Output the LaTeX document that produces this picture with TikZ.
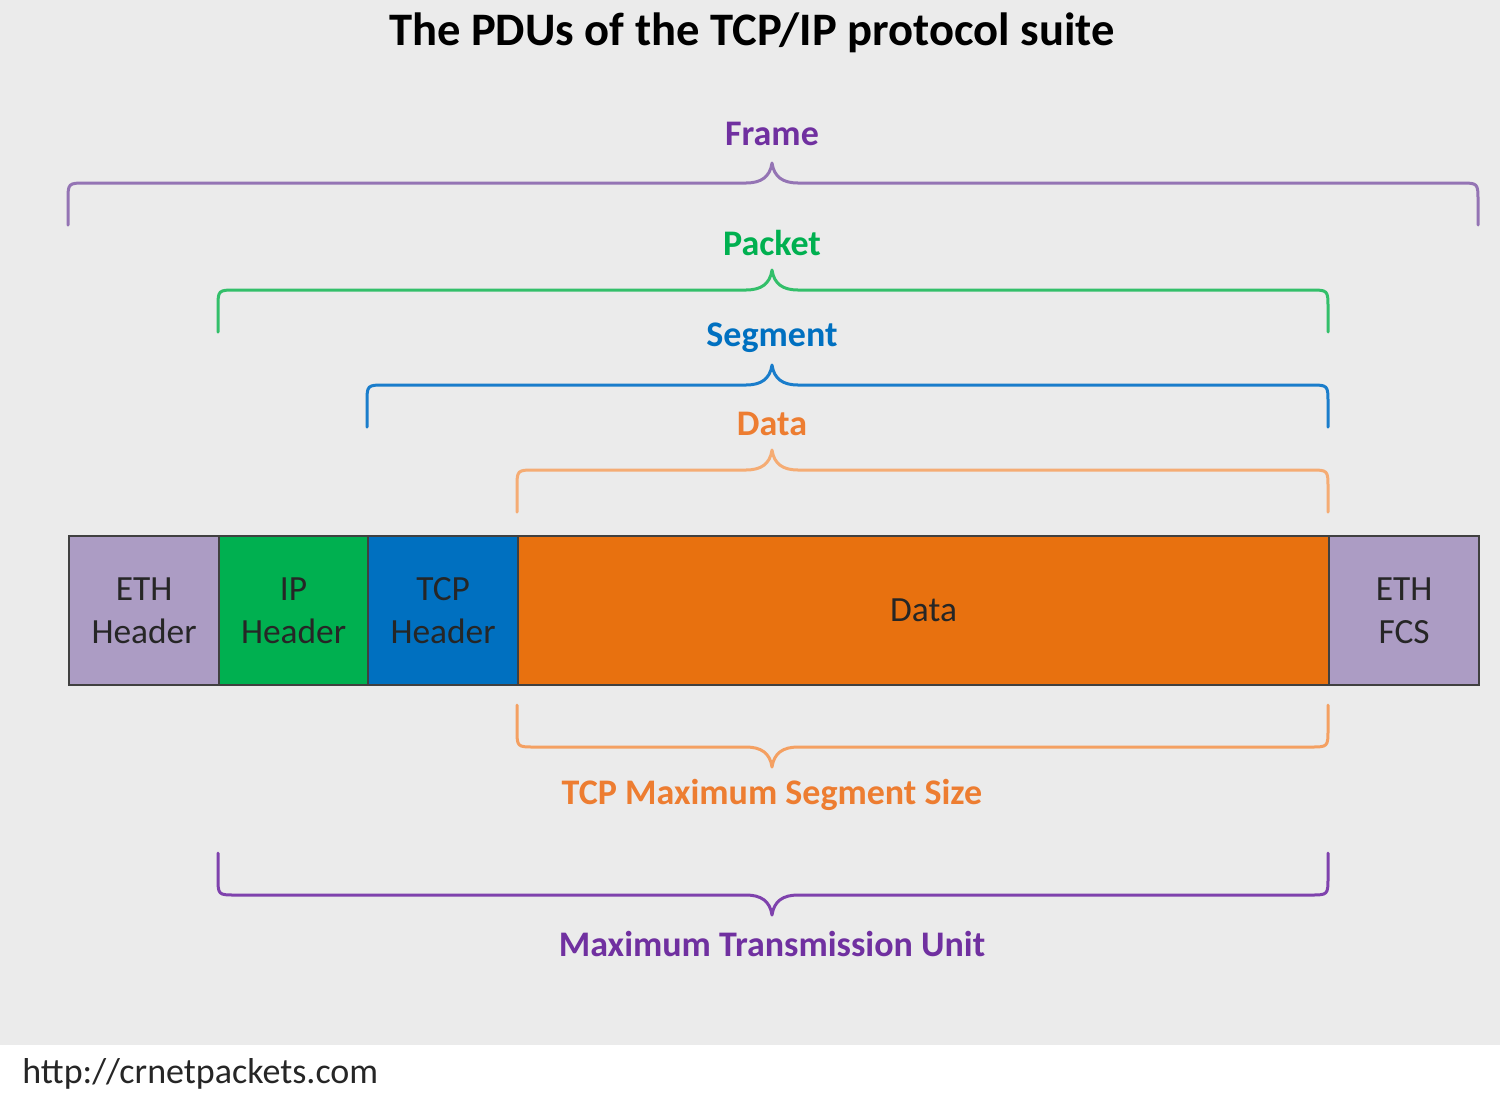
\documentclass[tikz,border=0pt]{standalone}
\usepackage{fontspec}
\setmainfont{Carlito}
\definecolor{bgc}{HTML}{EBEBEB}
\definecolor{ethc}{HTML}{AC9CC4}
\definecolor{ipc}{HTML}{00B050}
\definecolor{tcpc}{HTML}{0070C0}
\definecolor{datac}{HTML}{E8710F}
\definecolor{edgec}{HTML}{404040}
\definecolor{boxtext}{HTML}{262626}
\definecolor{framebr}{HTML}{9474B4}
\definecolor{framet}{HTML}{7030A0}
\definecolor{packetbr}{HTML}{33BF6A}
\definecolor{packett}{HTML}{00B050}
\definecolor{segbr}{HTML}{1A7DCB}
\definecolor{segt}{HTML}{0070C0}
\definecolor{databr}{HTML}{F5AC74}
\definecolor{datat}{HTML}{ED7D31}
\definecolor{mssbr}{HTML}{F4A062}
\definecolor{msst}{HTML}{ED7D31}
\definecolor{mtubr}{HTML}{7F42AD}
\definecolor{mtut}{HTML}{7030A0}
\newcommand{\pduup}[5]{%
  \draw[bracel,#5] (#1,#3+42) -- (#1,#3+18) .. controls (#1,#3) .. (#1+18,#3)
   -- (#4-26,#3) .. controls (#4-11,#3) and (#4-2,#3-6) .. (#4,#3-20)
   .. controls (#4+2,#3-6) and (#4+11,#3) .. (#4+26,#3)
   -- (#2-18,#3) .. controls (#2,#3) .. (#2,#3+18) -- (#2,#3+42);}
\newcommand{\pdudown}[5]{%
  \draw[bracel,#5] (#1,#3-42) -- (#1,#3-18) .. controls (#1,#3) .. (#1+18,#3)
   -- (#4-26,#3) .. controls (#4-11,#3) and (#4-2,#3+6) .. (#4,#3+20)
   .. controls (#4+2,#3+6) and (#4+11,#3) .. (#4+26,#3)
   -- (#2-18,#3) .. controls (#2,#3) .. (#2,#3-18) -- (#2,#3-42);}
\tikzset{
  bracel/.style={line width=1.5pt, line join=round, line cap=round},
  lbl/.style={font=\bfseries\fontsize{18}{21}\selectfont, inner sep=0pt},
  pdubox/.style={draw=edgec, line width=1.1pt, minimum height=74.5pt, inner sep=0pt,
    align=center, font=\fontsize{17.7}{21.5}\selectfont, text=boxtext, anchor=north west}
}
\begin{document}
\begin{tikzpicture}[x=0.5pt,y=-0.5pt]
\useasboundingbox (0,0) rectangle (1500,1100);
\fill[bgc] (0,0) rectangle (1500,1045);
\fill[white] (0,1045) rectangle (1500,1100);
\node[font=\bfseries\fontsize{23.3}{27}\selectfont, inner sep=0pt] (title) at (752,33) {The PDUs of the TCP/IP protocol suite};
% braces above
\pduup{68}{1478}{183}{772}{framebr}
\node[lbl, text=framet] (frame) at (772,134) {Frame};
\pduup{218}{1328}{290}{772}{packetbr}
\node[lbl, text=packett] (packet) at (772,243) {Packet};
\pduup{367}{1328}{385}{772}{segbr}
\node[lbl, text=segt] (segment) at (772,338) {Segment};
\pduup{517}{1328}{470}{772}{databr}
\node[lbl, text=datat] (datalbl) at (772,424) {Data};
% PDU bar
\node[pdubox, fill=ethc, minimum width=75pt] (ethh) at (68,535) {ETH\\Header};
\node[pdubox, fill=ipc, minimum width=74.5pt] (iph) at (218,535) {IP\\Header};
\node[pdubox, fill=tcpc, minimum width=75pt] (tcph) at (367,535) {TCP\\Header};
\node[pdubox, fill=datac, minimum width=405.5pt] (data) at (517,535) {Data};
\node[pdubox, fill=ethc, minimum width=75pt] (fcs) at (1328,535) {ETH\\FCS};
% braces below
\pdudown{517}{1328}{747}{772}{mssbr}
\node[lbl, text=msst] (mss) at (772,795) {TCP Maximum Segment Size};
\pdudown{218}{1328}{895}{772}{mtubr}
\node[lbl, text=mtut] (mtu) at (772,944) {Maximum Transmission Unit};
\node[font=\fontsize{18}{21}\selectfont, text=boxtext, anchor=west, inner sep=0pt] (url) at (22,1074) {http://crnetpackets.com};
\end{tikzpicture}
\end{document}
